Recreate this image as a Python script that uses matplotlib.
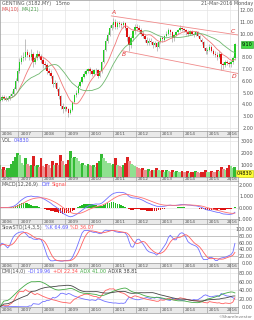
import numpy as np
import pandas as pd
import matplotlib
matplotlib.use('Agg')
import matplotlib.pyplot as plt
from matplotlib.transforms import blended_transform_factory

# ---------------- data (monthly, Mar-2006 .. Mar-2016) ----------------
years = [2006, 2007, 2008, 2009, 2010, 2011, 2012, 2013, 2014, 2015, 2016]

opens = [4.3, 4.4, 4.6, 4.5, 4.4, 4.5, 4.7, 4.9, 5.3, 6.0,
         6.8, 7.6, 7.9, 8.0, 8.4, 8.2, 8.0, 8.3, 7.6, 7.9, 8.3, 8.1,
         7.8, 7.4, 7.3, 6.8, 6.7, 6.4, 5.7, 5.8, 5.3, 4.7, 3.9, 3.6,
         3.8, 3.6, 3.3, 3.5, 4.2, 4.8, 5.0, 5.6, 5.9, 6.3, 6.6, 6.8,
         7.0, 6.8, 6.6, 6.9, 6.9, 6.4, 6.8, 7.6, 8.6, 9.4, 9.9, 10.5,
         10.7, 11.0, 10.6, 10.9, 10.8, 10.7, 10.9, 10.5, 9.7, 9.0, 9.6, 10.2,
         10.6, 10.5, 10.3, 10.0, 9.8, 9.5, 9.2, 9.4, 9.3, 9.0, 9.2, 8.9,
         9.3, 9.6, 9.5, 9.8, 10.0, 10.3, 10.1, 9.6, 9.9, 10.1, 10.3, 10.5,
         10.4, 10.3, 10.1, 10.0, 10.2, 10.0, 9.9, 10.1, 9.8, 9.5, 9.3, 8.8,
         8.5, 8.6, 8.9, 8.5, 8.3, 8.2, 8.0, 8.3, 7.4, 7.3, 7.6, 7.5,
         7.4, 7.6, 7.9]
closes = [4.4, 4.6, 4.5, 4.4, 4.5, 4.7, 4.9, 5.3, 6.0, 6.8,
          7.6, 7.9, 8.0, 8.4, 8.2, 8.0, 8.3, 7.6, 7.9, 8.3, 8.1, 7.8,
          7.4, 7.3, 6.8, 6.7, 6.4, 5.7, 5.8, 5.3, 4.7, 3.9, 3.6, 3.8,
          3.6, 3.3, 3.5, 4.2, 4.8, 5.0, 5.6, 5.9, 6.3, 6.6, 6.8, 7.0,
          6.8, 6.6, 6.9, 6.9, 6.4, 6.8, 7.6, 8.6, 9.4, 9.9, 10.5, 10.7,
          11.0, 10.6, 10.9, 10.8, 10.7, 10.9, 10.5, 9.7, 9.0, 9.6, 10.2, 10.6,
          10.5, 10.3, 10.0, 9.8, 9.5, 9.2, 9.4, 9.3, 9.0, 9.2, 8.9, 9.3,
          9.6, 9.5, 9.8, 10.0, 10.3, 10.1, 9.6, 9.9, 10.1, 10.3, 10.5, 10.4,
          10.3, 10.1, 10.0, 10.2, 10.0, 9.9, 10.1, 9.8, 9.5, 9.3, 8.8, 8.5,
          8.6, 8.9, 8.5, 8.3, 8.2, 8.0, 8.3, 7.4, 7.3, 7.6, 7.5, 7.4,
          7.6, 7.9, 9.1]
highs = [4.6, 4.8, 4.8, 4.7, 4.7, 4.9, 5.1, 5.5, 6.2, 7.1,
         7.9, 8.2, 8.4, 9.5, 8.7, 8.4, 8.7, 8.4, 8.1, 8.6, 8.5, 8.3,
         8.0, 7.7, 7.5, 7.1, 6.9, 6.5, 6.1, 5.9, 5.5, 4.8, 4.1, 3.9,
         3.9, 3.7, 3.7, 4.3, 4.9, 5.2, 5.7, 6.1, 6.4, 6.8, 7.0, 7.1,
         7.2, 7.0, 7.0, 7.1, 7.0, 6.9, 7.7, 8.7, 9.6, 10.1, 10.7, 10.9,
         11.3, 11.2, 11.1, 11.1, 11.0, 11.1, 11.0, 10.6, 9.9, 9.8, 10.4, 10.8,
         10.8, 10.7, 10.5, 10.2, 10.0, 9.7, 9.6, 9.6, 9.4, 9.4, 9.3, 9.4,
         9.8, 9.8, 9.9, 10.2, 10.5, 10.4, 10.2, 10.0, 10.2, 10.4, 10.7, 10.6,
         10.5, 10.4, 10.3, 10.3, 10.3, 10.1, 10.2, 10.2, 9.9, 9.6, 9.4, 8.9,
         8.8, 9.1, 9.0, 8.7, 8.5, 8.4, 8.5, 8.4, 7.6, 7.8, 7.8, 7.7,
         7.8, 8.1, 9.2]
lows = [4.2, 4.3, 4.4, 4.3, 4.3, 4.4, 4.6, 4.8, 5.2, 5.9,
        6.7, 7.4, 7.7, 7.8, 8.0, 7.8, 7.8, 7.2, 7.4, 7.8, 7.9, 7.5,
        7.1, 7.0, 6.6, 6.5, 6.2, 5.5, 5.5, 5.1, 4.5, 3.6, 3.3, 3.4,
        3.4, 2.9, 3.2, 3.4, 4.1, 4.6, 4.9, 5.5, 5.8, 6.2, 6.5, 6.7,
        6.6, 6.4, 6.5, 6.7, 6.2, 6.3, 6.7, 7.5, 8.5, 9.2, 9.8, 10.3,
        10.5, 10.4, 10.4, 10.6, 10.5, 10.5, 10.3, 9.4, 8.5, 8.8, 9.4, 10.0,
        10.2, 10.1, 9.8, 9.6, 9.3, 9.0, 9.0, 9.1, 8.8, 8.9, 8.5, 8.8,
        9.2, 9.3, 9.4, 9.7, 9.9, 9.9, 9.3, 9.4, 9.8, 10.0, 10.2, 10.2,
        10.1, 9.9, 9.8, 9.9, 9.9, 9.7, 9.8, 9.7, 9.4, 9.1, 8.6, 8.3,
        8.3, 8.5, 8.4, 8.2, 8.0, 7.8, 7.9, 6.9, 7.0, 7.2, 7.3, 7.2,
        7.2, 7.4, 7.8]
volumes = [950, 670, 840, 610, 730, 780, 1070, 1300, 1650, 1940,
           1820, 1190, 1010, 1530, 1070, 900, 1010, 1760, 900, 960, 840, 1530,
           900, 840, 1070, 960, 780, 1300, 1010, 1190, 960, 1820, 1300, 1010,
           1070, 1420, 2170, 1530, 1650, 1590, 1300, 1070, 1190, 1010, 900, 1070,
           960, 900, 1010, 840, 1190, 1300, 1880, 1530, 1360, 1190, 1130, 1010,
           1070, 1530, 960, 900, 840, 1010, 1130, 1650, 1300, 1070, 960, 900,
           840, 730, 670, 780, 610, 550, 670, 500, 610, 550, 730, 610,
           500, 550, 440, 610, 500, 440, 550, 380, 500, 440, 380, 500,
           440, 380, 500, 320, 380, 440, 500, 380, 320, 380, 440, 550,
           440, 380, 500, 440, 380, 550, 500, 840, 670, 610, 730, 1000,
           900, 730, 840]
price_ticks = [2, 3, 4, 5, 6, 7, 8, 9, 10, 11, 12]
vol_ticks = [1000, 2000, 3000]
macd_ticks = [-1, 0, 1, 2]
osc_ticks = [0, 20, 40, 60, 80, 100]
dmi_ticks = [0, 20, 40, 60, 80]
wave_labels = ['A', 'B', 'C', 'D']
wave_pos = [(2011.02, 11.75), (2011.49, 8.2), (2016.13, 10.15), (2016.17, 6.4)]
channel_upper = [(2010.95, 11.5), (2016.34, 9.88)]
channel_lower = [(2011.40, 8.55), (2016.34, 6.62)]
legend_vol = 'VOL 04830'
legend_sto = ['%K 64.69', '%D 36.07']
legend_dmi = ['-DI 19.96', '+DI 22.34', 'ADX 41.00', 'ADXR 38.81']

# ---------------- derived indicators ----------------
months = pd.period_range('2006-03', '2016-03', freq='M')
t = np.array([p.year + (p.month - 0.5) / 12 for p in months])
o = np.array(opens); c = np.array(closes); h = np.array(highs); l = np.array(lows)
v = np.array(volumes, dtype=float)
cs = pd.Series(c)
ma1 = cs.rolling(10, min_periods=1).mean()
ma2 = cs.rolling(21, min_periods=1).mean()
ema12 = cs.ewm(span=12, adjust=False).mean()
ema26 = cs.ewm(span=26, adjust=False).mean()
diff = ema12 - ema26
sig = diff.ewm(span=9, adjust=False).mean()
hist = diff - sig
hh = pd.Series(h).rolling(14, min_periods=1).max()
ll = pd.Series(l).rolling(14, min_periods=1).min()
fastk = 100 * (cs - ll) / (hh - ll)
slowk = fastk.rolling(3, min_periods=1).mean()
slowd = slowk.rolling(5, min_periods=1).mean()
hs = pd.Series(h); ls = pd.Series(l)
up = hs.diff(); dn = -ls.diff()
pdm = np.where((up > dn) & (up > 0), up, 0.0)
mdm = np.where((dn > up) & (dn > 0), dn, 0.0)
prevc = cs.shift().bfill().values
tr = np.maximum.reduce([h - l, np.abs(h - prevc), np.abs(l - prevc)])
a = 1 / 14
atr = pd.Series(tr).ewm(alpha=a, adjust=False).mean()
pdi = 100 * pd.Series(pdm).ewm(alpha=a, adjust=False).mean() / atr
mdi = 100 * pd.Series(mdm).ewm(alpha=a, adjust=False).mean() / atr
dx = 100 * (pdi - mdi).abs() / (pdi + mdi).replace(0, np.nan)
adx = dx.fillna(0).ewm(alpha=a, adjust=False).mean()
adxr = (adx + adx.shift(14).bfill()) / 2

# ---------------- layout ----------------
W, H = 254, 320
fig = plt.figure(figsize=(W / 100, H / 100), dpi=100)
fig.patch.set_facecolor('white')
XR = 238
XMIN, XMAX = 2006.213, 2016.34
FS = 3.5
GRID = '#e4e4e4'
TXT = '#555555'
PAD = (253 - XR) * 0.72
RIGHT = (252.5) / XR  # axes-fraction x of right label edge

def mk(top, bot):
    ax = fig.add_axes([0, 1 - bot / H, XR / W, (bot - top) / H])
    ax.set_xlim(XMIN, XMAX)
    for s in ax.spines.values():
        s.set_color('#9a9a9a'); s.set_linewidth(0.5)
    ax.set_xticks([])
    ax.yaxis.tick_right()
    ax.tick_params(axis='y', length=0, labelsize=FS, labelcolor=TXT, pad=PAD)
    for y in years:
        ax.axvline(y, color=GRID, lw=0.5, zorder=0)
    return ax

def set_ticks(ax, ticks, fmt, hide=None):
    ax.set_yticks(ticks)
    ax.set_yticklabels(['' if (hide is not None and x == hide) else fmt.format(x) for x in ticks])
    for lab in ax.get_yticklabels():
        lab.set_horizontalalignment('right')
    for x in ticks:
        ax.axhline(x, color=GRID, lw=0.5, zorder=0)

def strip(top, bot):
    ax = fig.add_axes([0, 1 - bot / H, XR / W, (bot - top) / H])
    ax.set_xlim(XMIN, XMAX); ax.set_ylim(0, 1)
    ax.set_facecolor('#e9e9e9')
    ax.set_xticks([]); ax.set_yticks([])
    for s in ax.spines.values():
        s.set_color('#9a9a9a'); s.set_linewidth(0.5)
    for y in years:
        ax.axvline(y, color='#a0a0a0', lw=0.5)
        if y == years[-1]:
            ax.text(XMAX - 0.03, 0.45, str(y), fontsize=FS - 0.3, color=TXT, va='center', ha='right')
        else:
            ax.text(max(y, XMIN) + 0.08, 0.45, str(y), fontsize=FS - 0.3, color=TXT,
                    va='center', ha='left', clip_on=True)
    return ax

def legend(ax, parts):
    prev = ax.text(0.008, 0.975, parts[0][0], transform=ax.transAxes, fontsize=FS,
                   color=parts[0][1], va='top', ha='left')
    for s, col in parts[1:]:
        prev = ax.annotate(s, xy=(1, 0), xycoords=prev, xytext=(1.6, 0), textcoords='offset points',
                           fontsize=FS, color=col, va='bottom', ha='left')

def value_box(ax, yval, text, fc, ec):
    tr_ = blended_transform_factory(ax.transAxes, ax.transData)
    ax.text(RIGHT, yval, text, transform=tr_, fontsize=FS, color='black', va='center', ha='right',
            bbox=dict(boxstyle='square,pad=0.2', fc=fc, ec=ec, lw=0.4), clip_on=False, zorder=6)

# price
axp = mk(0, 131)
axp.set_ylim(12 - 121 / 11.8, 12 + 10 / 11.8)
set_ticks(axp, price_ticks, '{:.2f}', hide=9)
upc, dnc = '#22cc22', '#dd1111'
cols = [upc if cc >= oo else dnc for oo, cc in zip(o, c)]
axp.vlines(t, l, h, colors='#909090', lw=0.4, zorder=2)
axp.bar(t, np.where(np.abs(c - o) < 0.03, 0.03, c - o), bottom=o, width=0.06, color=cols, zorder=3, lw=0)
axp.plot(t, ma1, color='#f07878', lw=0.6, zorder=4)
axp.plot(t, ma2, color='#6fb86f', lw=0.6, zorder=4)
for (p1, p2) in [channel_upper, channel_lower]:
    axp.plot([p1[0], p2[0]], [p1[1], p2[1]], color='#f08a8a', lw=0.6, zorder=4)
for lab, (xx, yy) in zip(wave_labels, wave_pos):
    axp.text(xx, yy, lab, color='#e03030', fontsize=4.3, style='italic', ha='center', va='center', zorder=5)
axp.text(0.008, 0.995, 'GENTING (3182.MY)   15mo', transform=axp.transAxes, fontsize=FS, color=TXT, va='top')
fig.text(1 - 1 / W, 1 - 1 / H, '21-Mar-2016 Monday', fontsize=FS, color=TXT, va='top', ha='right')
prev = axp.text(0.008, 0.95, 'MA(10)', transform=axp.transAxes, fontsize=FS, color='#e05050', va='top')
axp.annotate('MA(21)', xy=(1, 0), xycoords=prev, xytext=(1.6, 0), textcoords='offset points',
             fontsize=FS, color='#50a050', va='bottom')
value_box(axp, c[-1], f'{c[-1]:.2f}', '#44dd44', '#229922')
strip(131, 137)

# volume
axv = mk(137, 177)
axv.set_ylim(0, 3300)
set_ticks(axv, vol_ticks, '{:.0f}')
vcols = []
for i in range(len(v)):
    upm = c[i] >= o[i]
    light = i > 0 and v[i] < v[i - 1]
    if upm:
        vcols.append('#90e090' if light else '#33bb33')
    else:
        vcols.append('#e89090' if light else '#dd2222')
axv.bar(t, v, width=0.12, color=vcols, lw=0, zorder=2)
vname, vval = legend_vol.split(' ')
legend(axv, [(vname, TXT), (vval, '#5a5aff')])
value_box(axv, 250, vval, '#ffff33', '#bbbb00')
strip(177, 181)

# MACD
axm = mk(181, 219)
axm.set_ylim(-1.0, 2.35)
set_ticks(axm, macd_ticks, '{:.3f}')
axm.bar(t, hist, width=0.07, color=['#22bb22' if x >= 0 else '#dd1111' for x in hist], lw=0, zorder=2)
axm.plot(t, diff, color='#7070ff', lw=0.6, zorder=3)
axm.plot(t, sig, color='#ff7070', lw=0.6, zorder=3)
legend(axm, [('MACD(12,26,9)', TXT), ('Diff', '#5a5aff'), ('Signal', '#ff5050')])
strip(219, 224)

# Stochastic
axs = mk(224, 263)
axs.set_ylim(0, 114.7)
set_ticks(axs, osc_ticks, '{:.2f}')
for x in (20, 80):
    axs.axhline(x, color='#b0b0b0', lw=0.5, zorder=1)
axs.plot(t, slowk, color='#7070ff', lw=0.6, zorder=3)
axs.plot(t, slowd, color='#ff6060', lw=0.6, zorder=3)
legend(axs, [('SlowSTO(14,3,5)', TXT), (legend_sto[0], '#5a5aff'), (legend_sto[1], '#ff5050')])
strip(263, 268)

# DMI
axd = mk(268, 307)
axd.set_ylim(0, 91.8)
set_ticks(axd, dmi_ticks, '{:.2f}')
axd.plot(t, mdi, color='#7070ff', lw=0.6, zorder=3)
axd.plot(t, pdi, color='#ff6060', lw=0.6, zorder=3)
axd.plot(t, adx, color='#44aa44', lw=0.6, zorder=3)
axd.plot(t, adxr, color='#444444', lw=0.6, zorder=3)
legend(axd, [('DMI(14,0)', TXT), (legend_dmi[0], '#5a5aff'), (legend_dmi[1], '#ff5050'),
             (legend_dmi[2], '#44aa44'), (legend_dmi[3], '#444444')])
strip(307, 313)
fig.text(1 - 2 / W, 1 / H, '©ShareInvestor', fontsize=FS - 0.4, color='#777777', ha='right', va='bottom')

fig.savefig('out.png', dpi=100, facecolor='white')
